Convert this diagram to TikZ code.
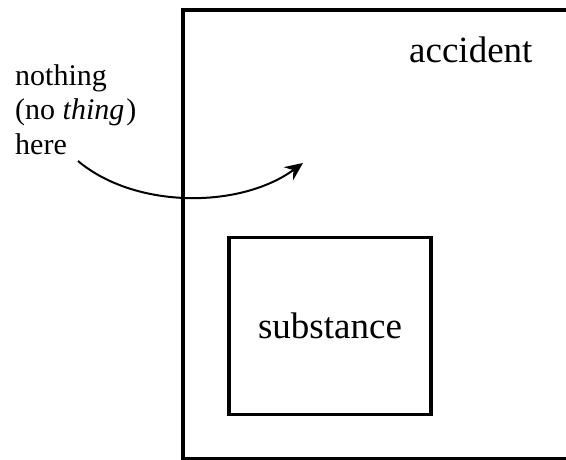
\documentclass[tikz,border=0pt]{standalone}
\usepackage{fontspec}
\setmainfont{Liberation Serif}
\usetikzlibrary{arrows.meta}
\begin{document}
\begin{tikzpicture}[x=1pt,y=-1pt,
  bigtext/.style={font=\fontsize{37}{44}\selectfont, inner sep=0pt},
  sidetext/.style={font=\fontsize{30}{35}\selectfont, inner sep=0pt, anchor=base west},
  frame/.style={line width=3.5pt},
  box/.style={draw, line width=3.3pt, minimum width=202pt, minimum height=177.5pt, inner sep=0pt},
  curvearrow/.style={line width=2pt, -{Stealth[length=18pt,width=16pt,inset=6pt]}}]
\useasboundingbox (0,0) rectangle (566,460);

% the open frame of the accident region
\draw[frame] (570,10) -- (183,10) -- (183,458.5) -- (570,458.5);
\node[bigtext, anchor=base west] (accident) at (409,63) {accident};

% substance box
\node[box, bigtext] (substance) at (330,326) {substance};

% side remark
\node[sidetext] (l1) at (15,85.5) {nothing};
\node[sidetext] (l2) at (15,120) {(no \textit{thing}\kern2pt)};
\node[sidetext] (l3) at (15,155) {here};

% curved arrow into the accident region
\coordinate (from) at (78,161);
\coordinate (to) at (303,163);
\draw[curvearrow] (from) .. controls (135,209) and (240,209) .. (to);
\end{tikzpicture}
\end{document}
